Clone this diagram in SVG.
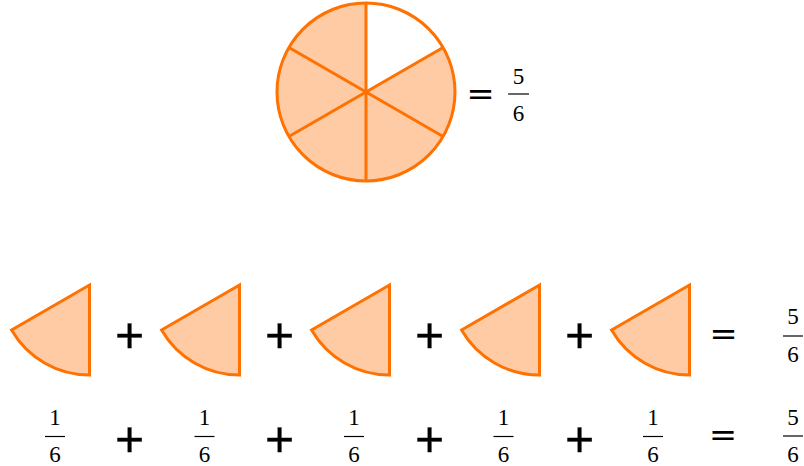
<svg xmlns="http://www.w3.org/2000/svg" width="804" height="466" viewBox="0 0 804 466">
<style>
.sec{fill:#FFCBA4;stroke:#FF7100;stroke-width:3;stroke-linejoin:miter}
.ln{stroke:#FF7100;stroke-width:3;fill:none}
.bar{stroke:#000;stroke-width:1.2}
</style>
<defs>
<path id="wedge" class="sec" d="M0,0 L0,90 A90,90 0 0,1 -77.94,45 Z"/>
</defs>
<g id="circle">
<circle cx="366" cy="92" r="89" fill="#FFCBA4"/>
<path d="M366,92 L366,3 A89,89 0 0,1 443.08,47.5 Z" fill="#FFFFFF"/>
<line class="ln" x1="366" y1="3" x2="366" y2="181"/>
<line class="ln" x1="288.92" y1="47.5" x2="443.08" y2="136.5"/>
<line class="ln" x1="288.92" y1="136.5" x2="443.08" y2="47.5"/>
<circle class="ln" cx="366" cy="92" r="89"/>
</g>
<g id="wedges">
<use href="#wedge" x="89.5" y="285"/>
<use href="#wedge" x="239.5" y="285"/>
<use href="#wedge" x="389.5" y="285"/>
<use href="#wedge" x="539.5" y="285"/>
<use href="#wedge" x="689.5" y="285"/>
</g>
<g id="equals" font-family="Liberation Sans, Arial, sans-serif" font-weight="bold" font-size="42" fill="#000" text-anchor="middle">
<text transform="translate(480.5,95) scale(1,0.55)" y="14">=</text>
<text transform="translate(723.5,335.5) scale(1,0.55)" y="14">=</text>
<text transform="translate(723,436) scale(1,0.55)" y="14">=</text>
</g>
<g id="plus" font-family="Liberation Sans, Arial, sans-serif" font-size="50" fill="#000" stroke="#000" stroke-width="0.3" text-anchor="middle">
<text x="129.5" y="351.5">+</text>
<text x="279.5" y="351.5">+</text>
<text x="429.5" y="351.5">+</text>
<text x="579.5" y="351.5">+</text>
<text x="129.5" y="455.5">+</text>
<text x="279.5" y="455.5">+</text>
<text x="429.5" y="455.5">+</text>
<text x="579.5" y="455.5">+</text>
</g>
<g id="fractions" font-family="Liberation Serif, Times New Roman, serif" font-size="23" fill="#000" text-anchor="middle">
<text x="518.5" y="84">5</text>
<text x="518.5" y="121">6</text>
<text x="793" y="324">5</text>
<text x="793" y="362">6</text>
<text x="55" y="425">1</text>
<text x="55" y="462">6</text>
<text x="204.5" y="425">1</text>
<text x="204.5" y="462">6</text>
<text x="354" y="425">1</text>
<text x="354" y="462">6</text>
<text x="503.5" y="425">1</text>
<text x="503.5" y="462">6</text>
<text x="653" y="425">1</text>
<text x="653" y="462">6</text>
<text x="793" y="425">5</text>
<text x="793" y="462">6</text>
</g>
<g id="bars" class="bar">
<line x1="508" y1="94" x2="529" y2="94"/>
<line x1="783" y1="336" x2="803" y2="336"/>
<line x1="45" y1="436.5" x2="65" y2="436.5"/>
<line x1="194.5" y1="436.5" x2="214.5" y2="436.5"/>
<line x1="344" y1="436.5" x2="364" y2="436.5"/>
<line x1="493.5" y1="436.5" x2="513.5" y2="436.5"/>
<line x1="643" y1="436.5" x2="663" y2="436.5"/>
<line x1="783" y1="436" x2="803" y2="436"/>
</g>
</svg>
